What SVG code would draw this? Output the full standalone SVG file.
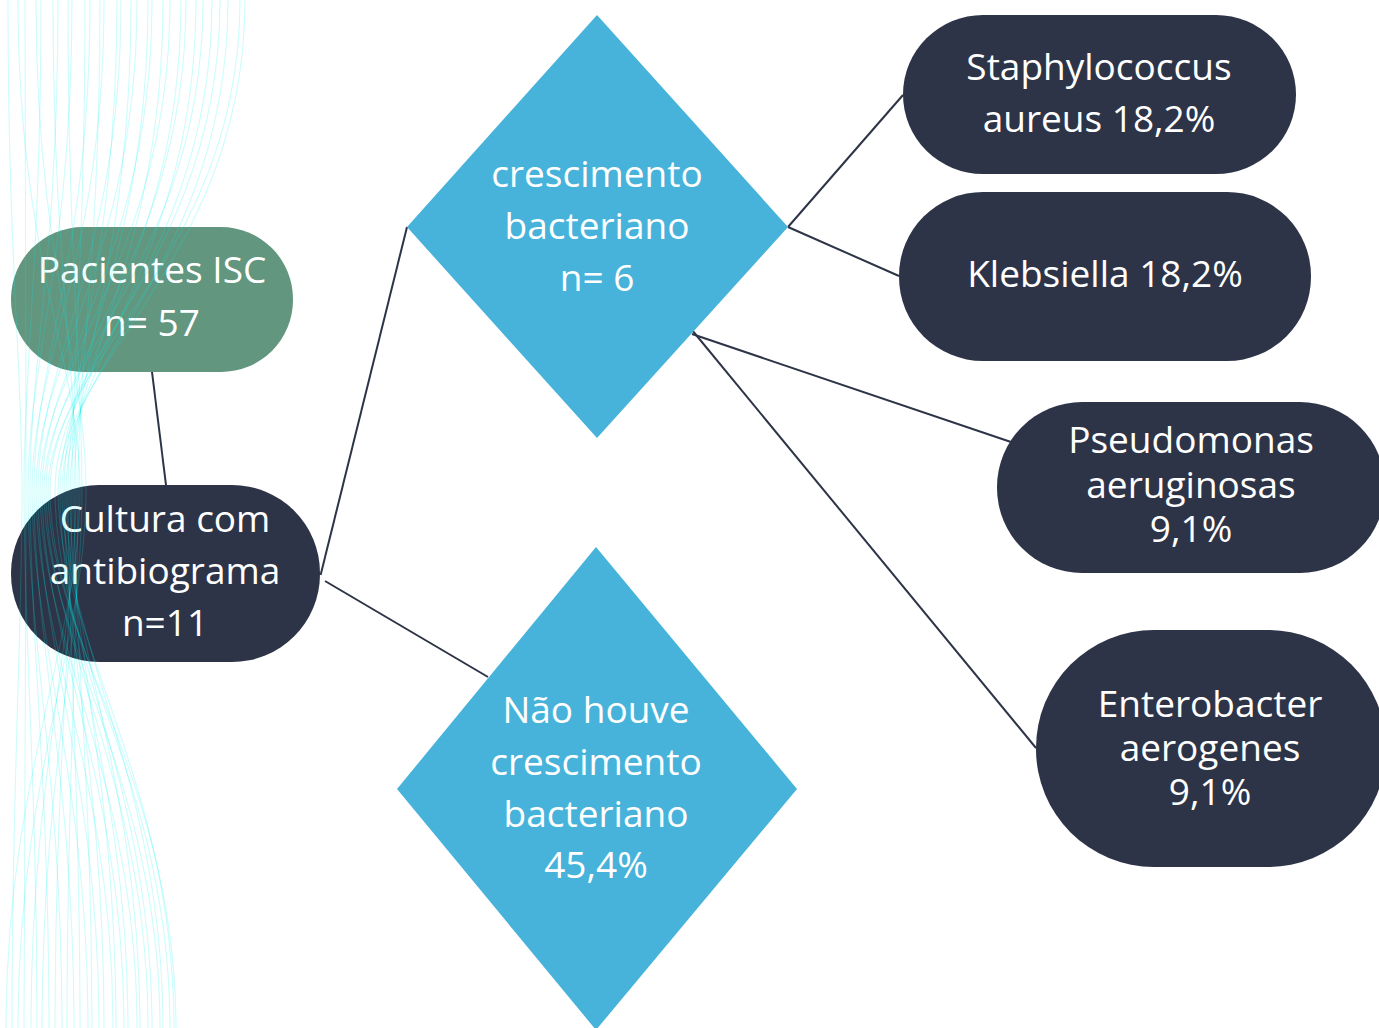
<svg xmlns="http://www.w3.org/2000/svg" width="1379" height="1028" viewBox="0 0 1379 1028">
<style>
.dark{fill:#2e3447}
.green{fill:#62967f}
.dia{fill:#47b3da}
.t{font-family:"Open Sans","Noto Sans","DejaVu Sans",sans-serif;font-size:37px;fill:#ffffff;text-anchor:middle}
.c{stroke:#2e3447;stroke-width:2;fill:none}
.w{fill:none;stroke:#00f0f0;stroke-opacity:0.2;stroke-width:1.1}
</style>
<rect x="0" y="0" width="1379" height="1028" fill="#ffffff"/>
<g id="connectors">
<line class="c" x1="152" y1="372" x2="166" y2="485"/>
<line class="c" x1="320.6" y1="575" x2="407" y2="227"/>
<line class="c" x1="325" y1="581" x2="488" y2="677"/>
<line class="c" x1="788" y1="227" x2="903" y2="95"/>
<line class="c" x1="788" y1="227" x2="899" y2="276"/>
<line class="c" x1="692" y1="334" x2="1011" y2="442"/>
<line class="c" x1="692" y1="330" x2="1036" y2="748"/>
</g>
<g id="pacientes">
<rect class="green" x="11" y="227" width="282" height="145" rx="72" ry="72"/>
<text class="t" x="152" y="283">Pacientes ISC</text>
<text class="t" x="152" y="336">n= 57</text>
</g>
<g id="cultura">
<rect class="dark" x="11" y="485" width="309" height="177" rx="88" ry="88"/>
<text class="t" x="165" y="532">Cultura com</text>
<text class="t" x="165" y="584">antibiograma</text>
<text class="t" x="165" y="636">n=11</text>
</g>
<g id="crescimento">
<polygon class="dia" points="597,15 788,227 597,438 407,227"/>
<text class="t" x="597" y="187">crescimento</text>
<text class="t" x="597" y="239">bacteriano</text>
<text class="t" x="597" y="291">n= 6</text>
</g>
<g id="nao-houve">
<polygon class="dia" points="596,547 797,789 596,1030 397,789"/>
<text class="t" x="596" y="723">Não houve</text>
<text class="t" x="596" y="775">crescimento</text>
<text class="t" x="596" y="827">bacteriano</text>
<text class="t" x="596" y="878">45,4%</text>
</g>
<g id="staphylococcus">
<rect class="dark" x="903" y="15" width="393" height="159" rx="80" ry="80"/>
<text class="t" x="1099" y="80">Staphylococcus</text>
<text class="t" x="1099" y="132">aureus 18,2%</text>
</g>
<g id="klebsiella">
<rect class="dark" x="899" y="192" width="412" height="169" rx="84" ry="84"/>
<text class="t" x="1105" y="287">Klebsiella 18,2%</text>
</g>
<g id="pseudomonas">
<rect class="dark" x="997" y="402" width="388" height="171" rx="85" ry="85"/>
<text class="t" x="1191" y="453">Pseudomonas</text>
<text class="t" x="1191" y="498">aeruginosas</text>
<text class="t" x="1191" y="542">9,1%</text>
</g>
<g id="enterobacter">
<rect class="dark" x="1036" y="630" width="350" height="237" rx="118" ry="118"/>
<text class="t" x="1210" y="717">Enterobacter</text>
<text class="t" x="1210" y="761">aerogenes</text>
<text class="t" x="1210" y="805">9,1%</text>
</g>
<g id="decor">
<path class="w" d="M8 0C8 260 22 360 22 490C22 640 12 780 12 1028"/>
<path class="w" d="M25 0C25 260 26 360 26 490C26 640 24 780 24 1028"/>
<path class="w" d="M41 0C41 260 24 360 24 490C24 640 37 780 37 1028"/>
<path class="w" d="M58 0C58 260 30 360 30 490C30 640 49 780 49 1028"/>
<path class="w" d="M72 0C72 260 28 360 28 490C28 640 62 780 62 1028"/>
<path class="w" d="M90 0C90 260 34 360 34 490C34 640 74 780 74 1028"/>
<path class="w" d="M104 0C104 260 32 360 32 490C32 640 88 780 88 1028"/>
<path class="w" d="M121 0C121 260 38 360 38 490C38 640 99 780 99 1028"/>
<path class="w" d="M137 0C137 260 36 360 36 490C36 640 113 780 113 1028"/>
<path class="w" d="M152 0C152 260 42 360 42 490C42 640 124 780 124 1028"/>
<path class="w" d="M170 0C170 260 40 360 40 490C40 640 137 780 137 1028"/>
<path class="w" d="M186 0C186 260 46 360 46 490C46 640 148 780 148 1028"/>
<path class="w" d="M203 0C203 260 44 360 44 490C44 640 160 780 160 1028"/>
<path class="w" d="M220 0C220 260 50 360 50 490C50 640 170 780 170 1028"/>
<path class="w" d="M240 0C240 260 48 360 48 490C48 640 176 780 176 1028"/>
<path class="w" d="M245 0C245 260 58 360 58 490C58 640 174 780 174 1028"/>
<path class="w" d="M228 0C228 260 62 360 62 490C62 640 163 780 163 1028"/>
<path class="w" d="M212 0C212 260 55 360 55 490C55 640 152 780 152 1028"/>
<path class="w" d="M196 0C196 260 66 360 66 490C66 640 140 780 140 1028"/>
<path class="w" d="M181 0C181 260 60 360 60 490C60 640 128 780 128 1028"/>
<path class="w" d="M163 0C163 260 70 360 70 490C70 640 116 780 116 1028"/>
<path class="w" d="M148 0C148 260 64 360 64 490C64 640 104 780 104 1028"/>
<path class="w" d="M131 0C131 260 74 360 74 490C74 640 92 780 92 1028"/>
<path class="w" d="M117 0C117 260 68 360 68 490C68 640 80 780 80 1028"/>
<path class="w" d="M100 0C100 260 78 360 78 490C78 640 67 780 67 1028"/>
<path class="w" d="M85 0C85 260 72 360 72 490C72 640 55 780 55 1028"/>
<path class="w" d="M68 0C68 260 82 360 82 490C82 640 42 780 42 1028"/>
<path class="w" d="M53 0C53 260 76 360 76 490C76 640 31 780 31 1028"/>
<path class="w" d="M36 0C36 260 86 360 86 490C86 640 18 780 18 1028"/>
<path class="w" d="M18 0C18 260 80 360 80 490C80 640 6 780 6 1028"/>
</g>
</svg>
